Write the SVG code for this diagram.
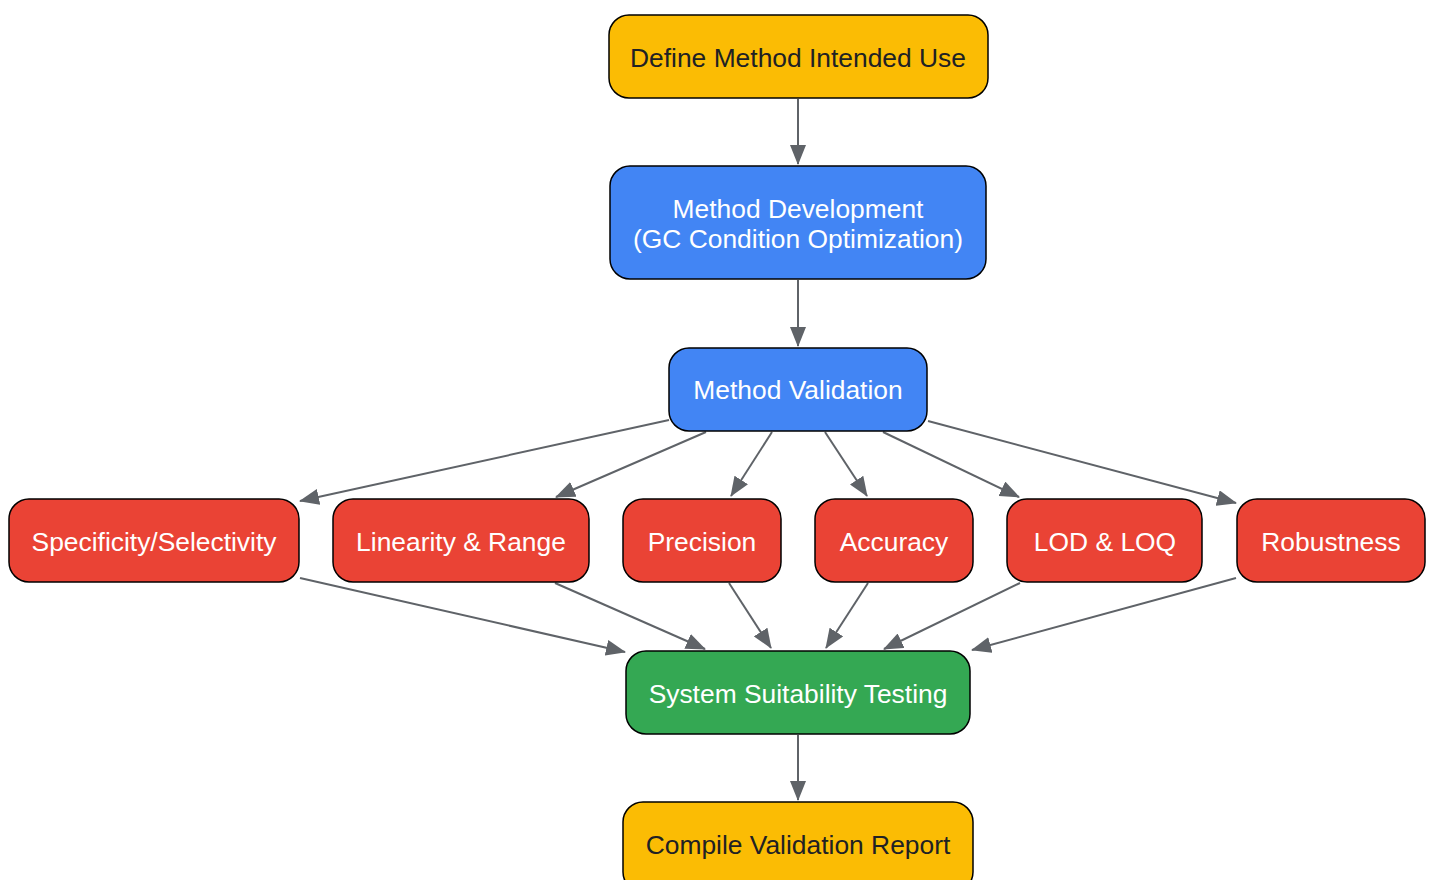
<svg xmlns="http://www.w3.org/2000/svg" width="1433" height="880" viewBox="0 0 1433 880">
<style>
.n{stroke:#000;stroke-width:1.5}
.y{fill:#FBBC04}.b{fill:#4285F4}.r{fill:#EA4335}.g{fill:#34A853}
.t{font-family:"Liberation Sans",Arial,sans-serif;font-size:26.4px;text-anchor:middle;dominant-baseline:central}
.dk{fill:#202124}.wt{fill:#fff}
.e{stroke:#5f6368;stroke-width:2;fill:none;marker-end:url(#ah)}
</style>
<defs>
<marker id="ah" markerUnits="userSpaceOnUse" markerWidth="20" markerHeight="16" refX="19" refY="8" orient="auto">
<path d="M0,0 L20,8 L0,16 Z" fill="#5f6368"/>
</marker>
</defs>
<rect width="1433" height="880" fill="#fff"/>
<g id="edges">
<line class="e" x1="798" y1="99" x2="798" y2="164"/>
<line class="e" x1="798" y1="280" x2="798" y2="346"/>
<line class="e" x1="669" y1="420" x2="300" y2="501"/>
<line class="e" x1="706" y1="432" x2="556" y2="497"/>
<line class="e" x1="772" y1="432" x2="731" y2="496"/>
<line class="e" x1="825" y1="432" x2="867" y2="496"/>
<line class="e" x1="883" y1="432" x2="1019" y2="497"/>
<line class="e" x1="928" y1="421" x2="1236" y2="503"/>
<line class="e" x1="300" y1="578" x2="625" y2="652"/>
<line class="e" x1="555" y1="583" x2="705" y2="649"/>
<line class="e" x1="729" y1="583" x2="771" y2="648"/>
<line class="e" x1="868" y1="583" x2="826" y2="648"/>
<line class="e" x1="1020" y1="583" x2="884" y2="649"/>
<line class="e" x1="1236" y1="578" x2="972" y2="650"/>
<line class="e" x1="798" y1="735" x2="798" y2="800"/>
</g>
<g id="define"><rect class="n y" x="609" y="15" width="379" height="83" rx="20"/><text class="t dk" x="798" y="58">Define Method Intended Use</text></g>
<g id="develop"><rect class="n b" x="610" y="166" width="376" height="113" rx="20"/><text class="t wt" x="798" y="209">Method Development</text><text class="t wt" x="798" y="239">(GC Condition Optimization)</text></g>
<g id="validation"><rect class="n b" x="669" y="348" width="258" height="83" rx="20"/><text class="t wt" x="798" y="390">Method Validation</text></g>
<g id="specificity"><rect class="n r" x="9" y="499" width="290" height="83" rx="20"/><text class="t wt" x="154" y="542">Specificity/Selectivity</text></g>
<g id="linearity"><rect class="n r" x="333" y="499" width="256" height="83" rx="20"/><text class="t wt" x="461" y="542">Linearity &amp; Range</text></g>
<g id="precision"><rect class="n r" x="623" y="499" width="158" height="83" rx="20"/><text class="t wt" x="702" y="542">Precision</text></g>
<g id="accuracy"><rect class="n r" x="815" y="499" width="158" height="83" rx="20"/><text class="t wt" x="894" y="542">Accuracy</text></g>
<g id="lod"><rect class="n r" x="1007" y="499" width="195" height="83" rx="20"/><text class="t wt" x="1105" y="542">LOD &amp; LOQ</text></g>
<g id="robustness"><rect class="n r" x="1237" y="499" width="188" height="83" rx="20"/><text class="t wt" x="1331" y="542">Robustness</text></g>
<g id="sst"><rect class="n g" x="626" y="651" width="344" height="83" rx="20"/><text class="t wt" x="798" y="694">System Suitability Testing</text></g>
<g id="report"><rect class="n y" x="623" y="802" width="350" height="90" rx="20"/><text class="t dk" x="798" y="845">Compile Validation Report</text></g>
</svg>
